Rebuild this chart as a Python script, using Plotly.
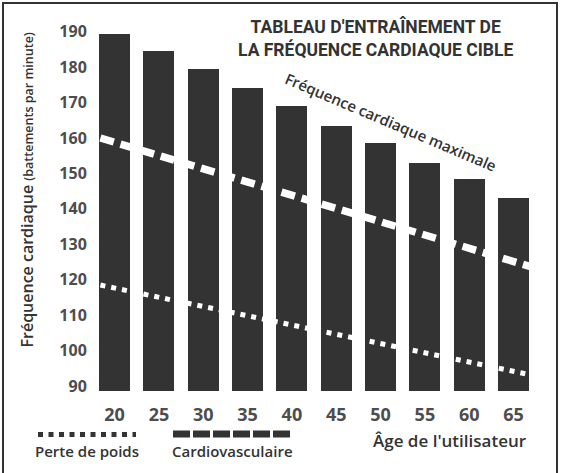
import plotly.graph_objects as go

# ---- data ----
ages = [20, 25, 30, 35, 40, 45, 50, 55, 60, 65]
max_hr = [189.5, 184.5, 179.5, 174, 169, 163.5, 158.5, 153, 148.5, 143]
zone_ages = [18.4, 67.2]
cardio_zone = [160, 123.5]
weight_loss_zone = [118.5, 93]
y_ticks = [90, 100, 110, 120, 130, 140, 150, 160, 170, 180, 190]

# ---- layout geometry (pixels) ----
W, H = 565, 473
L, R, T, B = 92, 29, 25, 82
PW, PH = W - L - R, H - T - B

def px(x):
    return (x - L) / PW

def py(y):
    return (H - B - y) / PH

BAR = "#333333"
TXT = "#333333"
TICK = "#4d4d4d"
FONT = "Open Sans"

fig = go.Figure()
fig.add_trace(go.Bar(x=ages, y=max_hr, width=3.5, marker=dict(color=BAR, line=dict(width=0)),
                     base=0, hoverinfo="skip", showlegend=False))
fig.add_trace(go.Scatter(x=zone_ages, y=cardio_zone, mode="lines",
                         line=dict(color="white", width=7.5, dash="14px,7px"), showlegend=False))
fig.add_trace(go.Scatter(x=zone_ages, y=weight_loss_zone, mode="lines",
                         line=dict(color="white", width=5, dash="5px,6px"), showlegend=False))

def ann(text, x, y, size, weight=600, family=FONT, angle=0):
    return dict(text=text, x=px(x), y=py(y), xref="paper", yref="paper", showarrow=False,
                xanchor="center", yanchor="middle", align="center", textangle=angle,
                font=dict(family=family, size=size, color=TXT, weight=weight))

annotations = [
    ann("TABLEAU D'ENTRAÎNEMENT DE<br>LA FRÉQUENCE CARDIAQUE CIBLE", 376, 38, 17.5, 700, "Roboto"),
    ann("Fréquence cardiaque maximale", 391, 122, 15, angle=23),
    ann("Fréquence cardiaque <span style='font-size:12.5px'>(battements par minute)</span>",
        26.5, 190, 16, angle=-90),
    ann("Perte de poids", 87, 451, 15),
    ann("Cardiovasculaire", 232, 451, 15),
    ann("Âge de l'utilisateur", 449.5, 440, 17),
]

shapes = [
    dict(type="line", xref="paper", yref="paper", x0=px(38), x1=px(136), y0=py(434.5), y1=py(434.5),
         line=dict(color=TXT, width=5, dash="5px,5.5px")),
    dict(type="line", xref="paper", yref="paper", x0=px(173), x1=px(292), y0=py(434), y1=py(434),
         line=dict(color=TXT, width=7, dash="17px,3px")),
    dict(type="rect", xref="paper", yref="paper", x0=px(3), x1=px(557), y0=py(3), y1=py(480),
         line=dict(color="#333333", width=2)),
]

fig.update_layout(
    width=W, height=H, margin=dict(l=L, r=R, t=T, b=B),
    paper_bgcolor="white", plot_bgcolor="white",
    annotations=annotations, shapes=shapes, bargap=0,
    xaxis=dict(range=[17.45, 67.53], tickvals=ages, ticktext=[str(a) for a in ages],
               showgrid=False, zeroline=False, showline=False,
               ticks="outside", ticklen=7, tickcolor="rgba(0,0,0,0)",
               tickfont=dict(family=FONT, size=18, color=TICK, weight=700)),
    yaxis=dict(range=[88.6, 191.9], tickvals=y_ticks, showgrid=False, zeroline=False, showline=False,
               ticks="outside", ticklen=1, tickcolor="rgba(0,0,0,0)",
               tickfont=dict(family=FONT, size=16, color=TICK, weight=700)),
)

fig.write_html("out.html")
